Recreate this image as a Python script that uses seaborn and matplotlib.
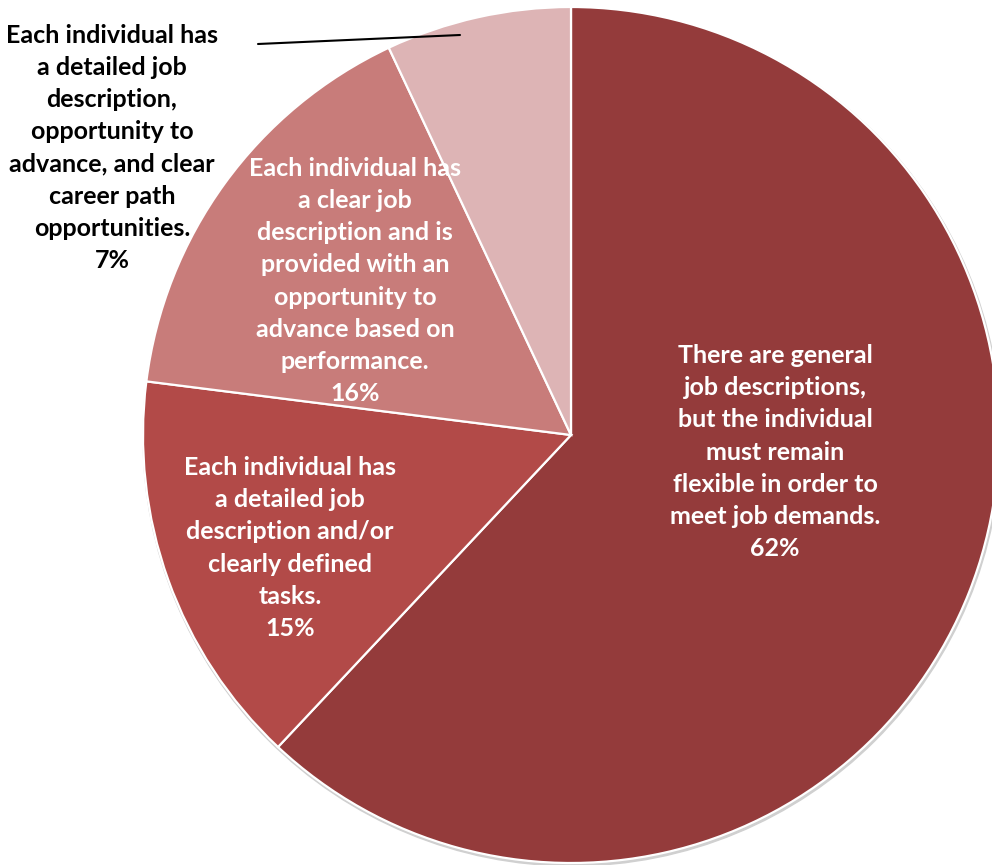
import matplotlib
matplotlib.use("Agg")
import matplotlib.pyplot as plt
import seaborn as sns

categories = [
    "There are general\njob descriptions,\nbut the individual\nmust remain\nflexible in order to\nmeet job demands.",
    "Each individual has\na detailed job\ndescription and/or\nclearly defined\ntasks.",
    "Each individual has\na clear job\ndescription and is\nprovided with an\nopportunity to\nadvance based on\nperformance.",
    "Each individual has\na detailed job\ndescription,\nopportunity to\nadvance, and clear\ncareer path\nopportunities.",
]
values = [62, 15, 16, 7]
colors = ["#943B3B", "#B24A48", "#C87C7A", "#DDB4B5"]
text_colors = ["white", "white", "white", "black"]

sns.set_theme(style="white")
plt.rcParams["font.family"] = ["Lato", "DejaVu Sans"]

W, H = 992, 865
fig = plt.figure(figsize=(W / 100, H / 100), dpi=100)
ax = fig.add_axes([0, 0, 1, 1])

cx, cy, r = 571, H - 435, 428

# subtle shadow
ax.add_patch(plt.Circle((cx + 1, cy - 2), r + 1, color="#d0d0d0", zorder=0))

wedges, _ = ax.pie(
    values, colors=colors, startangle=90, counterclock=False,
    center=(cx, cy), radius=r, frame=True,
    wedgeprops=dict(edgecolor="white", linewidth=1.6),
)
ax.set_xlim(0, W)
ax.set_ylim(0, H)
ax.set_aspect("equal")
ax.axis("off")

label_pos = [(775, 452), (290, 548), (355, 281), (112, 148)]
for cat, v, (x, y), tc in zip(categories, values, label_pos, text_colors):
    ax.text(x, H - y, f"{cat}\n{v}%", ha="center", va="center", color=tc,
            fontsize=18, fontweight="bold", linespacing=1.475, zorder=5)

ax.plot([258, 460], [H - 44, H - 35], color="black", lw=1.5, zorder=6)

fig.savefig("out.png", dpi=100)
